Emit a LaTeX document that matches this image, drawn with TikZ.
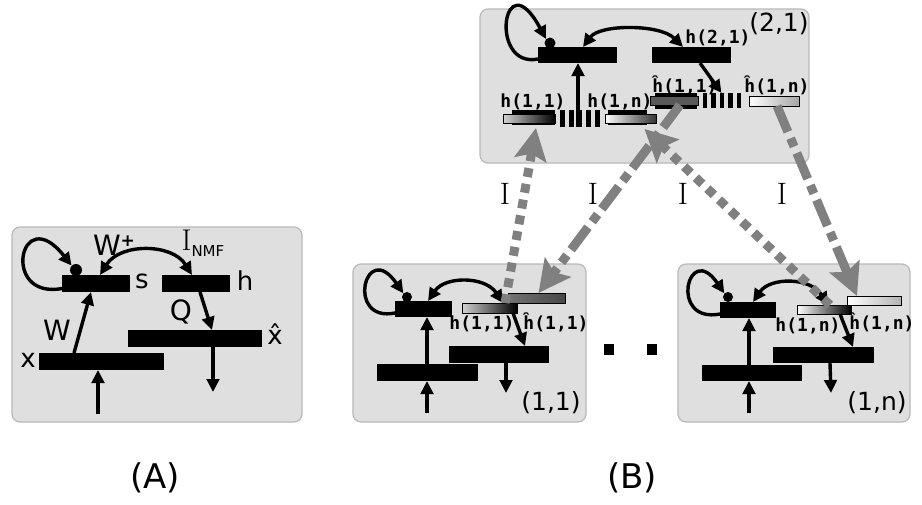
\documentclass[tikz,border=0pt]{standalone}
\usepackage{fontspec}
\newfontfamily\dv{DejaVu Sans}
\newfontfamily\dvm{DejaVu Sans Mono}
\usetikzlibrary{arrows.meta}
\tikzset{
  panel/.style={fill=gray!25, draw=gray!55, line width=1.2pt, rounded corners=8pt},
  bar/.style={fill=black, inner sep=0pt, outer sep=0pt, minimum width=#1, minimum height=17pt},
  gbar/.style={draw=black, line width=0.7pt, inner sep=0pt, outer sep=0pt, minimum width=#1, minimum height=9pt},
  dotnode/.style={circle, fill=black, inner sep=0pt, minimum size=#1},
  sqnode/.style={fill=black, inner sep=0pt, minimum size=10.5pt},
  dashgrp/.style={inner sep=0pt, outer sep=0pt, minimum width=40pt, minimum height=#1},
  blk/.style={line width=3.4pt, -{Triangle[length=13pt,width=12.5pt]}},
  dblk/.style={line width=3.4pt, {Triangle[length=13pt,width=12.5pt]}-{Triangle[length=13pt,width=12.5pt]}},
  garrow/.style={draw=gray, line width=9pt, -{Stealth[length=32pt,width=32pt,inset=6pt]}},
  dotsq/.style={dash pattern=on 9pt off 7pt},
  dashdotsq/.style={dash pattern=on 28pt off 7pt on 9pt off 7pt},
  lab/.style={inner sep=0pt, font=\dv\fontsize{26}{26}\selectfont},
  numlab/.style={inner sep=0pt, font=\dv\fontsize{25}{25}\selectfont},
  biglab/.style={inner sep=0pt, font=\dv\fontsize{34}{34}\selectfont},
  blab/.style={inner sep=0pt, font=\dvm\bfseries\fontsize{18}{18}\selectfont},
  ilab/.style={inner sep=0pt, font=\fontsize{31}{31}\selectfont},
}
\begin{document}
\begin{tikzpicture}[x=1pt,y=-1pt]
\useasboundingbox (0,0) rectangle (922,504);
\fill[white] (0,0) rectangle (922,504);

% ---------- panels
\draw[panel] (12,227) rectangle (302,422);
\draw[panel] (480,9) rectangle (809,163);
\draw[panel] (353,264) rectangle (586,422);
\draw[panel] (678,264) rectangle (910,422);

% ================= Panel A
\node[bar=68pt] (sA) at (96,283.5) {};
\node[bar=68pt] (hA) at (196,283.5) {};
\node[bar=134pt] (xhA) at (195,338.5) {};
\node[bar=125pt] (xA) at (101.5,361.5) {};
\node[dotnode=12pt] (dA) at (76,270) {};
\coordinate (inA) at (98,414);
\coordinate (outA) at (213,392);

\draw[blk] ([yshift=-5pt]sA.west) .. controls (0,300) and (20,200) .. (dA.north west);
\draw[dblk] ([xshift=38pt]sA.north west) .. controls (120,243) and (172,243) .. ([xshift=30pt]hA.north west);
\draw[blk] ([xshift=35pt]xA.north west) -- ([xshift=29pt]sA.south west);
\draw[blk] ([xshift=38pt]hA.south west) -- ([xshift=84pt]xhA.north west);
\draw[blk] ([xshift=85pt]xhA.south west) -- (outA);
\draw[blk] (inA) -- ([xshift=59pt]xA.south west);

\node[lab] (ls) at (142,281) {s};
\node[lab] (lh) at (245,281) {h};
\node[lab] (lx) at (28,360) {x};
\node[lab] (lxh) at (275,334) {\^{x}};
\node[lab, font=\dv\fontsize{28}{28}\selectfont] (lWp) at (114,245) {W\raisebox{9pt}{\fontsize{17}{17}\selectfont\bfseries +}};
\node[lab, font=\dv\fontsize{28}{28}\selectfont] (lW) at (57,330) {W};
\node[lab, font=\dv\fontsize{28}{28}\selectfont] (lQ) at (181,312) {Q};
\node[inner sep=0pt] (lI) at (203,243) {\fontsize{30}{30}\selectfont I\raisebox{-6pt}{\dv\fontsize{15}{15}\selectfont NMF}};

% ================= Top panel (2,1)
\node[bar=79pt, minimum height=16pt] (sT) at (577.5,55) {};
\node[bar=79pt, minimum height=16pt] (hT) at (691.5,55) {};
\node[dotnode=11pt] (dT) at (550,43) {};

\fill (512,110) rectangle (555,125);
\node[gbar=52pt, left color=gray!35, right color=black] (hT11) at (529,118.5) {};
\fill (608,110) rectangle (647,125);
\node[gbar=51pt, left color=white, right color=black!80] (hT1n) at (630.5,118.5) {};
\fill (655,93) rectangle (697,109);
\node[gbar=48pt, fill=black!65] (hhT11) at (674,100.5) {};
\node[gbar=50pt, minimum height=10pt, left color=white, right color=gray!70] (hhT1n) at (774,101) {};

\node[dashgrp=17pt] (dashL) at (580,118.5) {};
\foreach \i in {0,...,4} \fill ([xshift=\i*8.7pt]dashL.north west) rectangle ++(5,17);
\node[dashgrp=15pt] (dashR) at (722.5,100.5) {};
\foreach \i in {0,...,4} \fill ([xshift=\i*8.5pt]dashR.north west) rectangle ++(4.5,15);

\draw[blk] ([yshift=-4pt]sT.west) .. controls (488,69) and (503,-41) .. (dT.north west);
\draw[dblk] ([xshift=45pt]sT.north west) .. controls (600,24) and (660,24) .. ([xshift=31pt]hT.north west);
\draw[blk] ([xshift=48pt]hT.south west) -- ([xshift=19pt]dashR.north west);
\draw[blk] ([xshift=-2pt]dashL.south) -- ([xshift=40pt]sT.south west);

\node[blab] (lh21) at (718,38) {h(2,1)};
\node[numlab] (l21) at (779,24) {(2,1)};
\node[blab] (lhT11) at (533,102) {h(1,1)};
\node[blab] (lhT1n) at (620,102) {h(1,n)};
\node[blab] (lhhT11) at (685,85) {\^{h}(1,1)};
\node[blab] (lhhT1n) at (777,85) {\^{h}(1,n)};

% ================= Bottom panel (1,1)
\node[bar=57pt, minimum height=16pt] (s11) at (423.5,309) {};
\node[dotnode=10pt] (d11) at (407,297) {};
\node[gbar=55pt, minimum height=10pt, left color=gray!35, right color=black] (h11) at (489.5,308) {};
\node[gbar=57pt, minimum height=10pt, left color=black!55, right color=black!72] (hh11) at (536.5,298) {};
\node[bar=100pt] (xh11) at (499,354.5) {};
\node[bar=101pt] (x11) at (427.5,372.5) {};
\coordinate (in11) at (427,413);
\coordinate (out11) at (506,393);

\draw[blk] ([yshift=-4pt]s11.west) .. controls (345,323) and (365,238) .. (d11.north west);
\draw[dblk] ([xshift=33pt]s11.north west) .. controls (445,276) and (485,276) .. ([xshift=41pt]h11.north west);
\draw[blk] ([xshift=51pt]h11.south west) -- ([xshift=76pt]xh11.north west);
\draw[blk] ([xshift=50pt]x11.north west) -- ([xshift=32pt]s11.south west);
\draw[blk] (in11) -- ([xshift=50pt]x11.south west);
\draw[blk] ([xshift=57pt]xh11.south west) -- (out11);

\node[blab] (lh11) at (482,324) {h(1,1)};
\node[blab] (lhh11) at (556,322) {\^{h}(1,1)};
\node[numlab] (l11) at (551,403) {(1,1)};

% ================= Bottom panel (1,n)
\node[bar=56pt, minimum height=16pt] (s1n) at (748,310) {};
\node[dotnode=10pt] (d1n) at (728,297) {};
\node[gbar=54pt, left color=white, right color=black] (h1n) at (824,309.5) {};
\node[gbar=54pt, left color=white, right color=gray!60] (hh1n) at (874,300.5) {};
\node[bar=101pt, minimum height=16pt] (xh1n) at (823.5,355) {};
\node[bar=100pt, minimum height=16pt] (x1n) at (752,373) {};
\coordinate (in1n) at (749,413);
\coordinate (out1n) at (831,393);

\draw[blk] ([yshift=-4pt]s1n.west) .. controls (668,324) and (688,240) .. (d1n.north west);
\draw[dblk] ([xshift=33pt]s1n.north west) .. controls (770,277) and (810,277) .. ([xshift=31pt]h1n.north west);
\draw[blk] ([xshift=43pt]h1n.south west) -- ([xshift=80pt]xh1n.north west);
\draw[blk] ([xshift=47pt]x1n.north west) -- ([xshift=29pt]s1n.south west);
\draw[blk] (in1n) -- ([xshift=47pt]x1n.south west);
\draw[blk] ([xshift=57pt]xh1n.south west) -- (out1n);

\node[blab] (lh1n) at (808,326) {h(1,n)};
\node[blab] (lhh1n) at (882,322) {\^{h}(1,n)};
\node[numlab] (l1n) at (877,403) {(1,n)};

% ---------- dots between
\node[sqnode] (q1) at (609,349.5) {};
\node[sqnode] (q2) at (652,349.5) {};

% ---------- gray arrows
\draw[garrow, dotsq] ([xshift=-12pt]h11.north east) -- ([xshift=7pt,yshift=-5pt]hT11.south);
\draw[garrow, dashdotsq] ([xshift=6pt]hhT11.south) -- ([xshift=2pt]hh11.north);
\draw[garrow, dotsq] ([xshift=6pt]h1n.north) -- ([xshift=14pt,yshift=-6pt]hT1n.south);
\draw[garrow, dashdotsq] ([xshift=3pt]hhT1n.south) -- ([xshift=-17pt]hh1n.north);

\node[ilab] (I1) at (505,194) {I};
\node[ilab] (I2) at (593,194) {I};
\node[ilab] (I3) at (683,194) {I};
\node[ilab] (I4) at (782,194) {I};

% ---------- captions
\node[biglab] (capA) at (155,478) {(A)};
\node[biglab] (capB) at (632,478) {(B)};
\end{tikzpicture}
\end{document}
